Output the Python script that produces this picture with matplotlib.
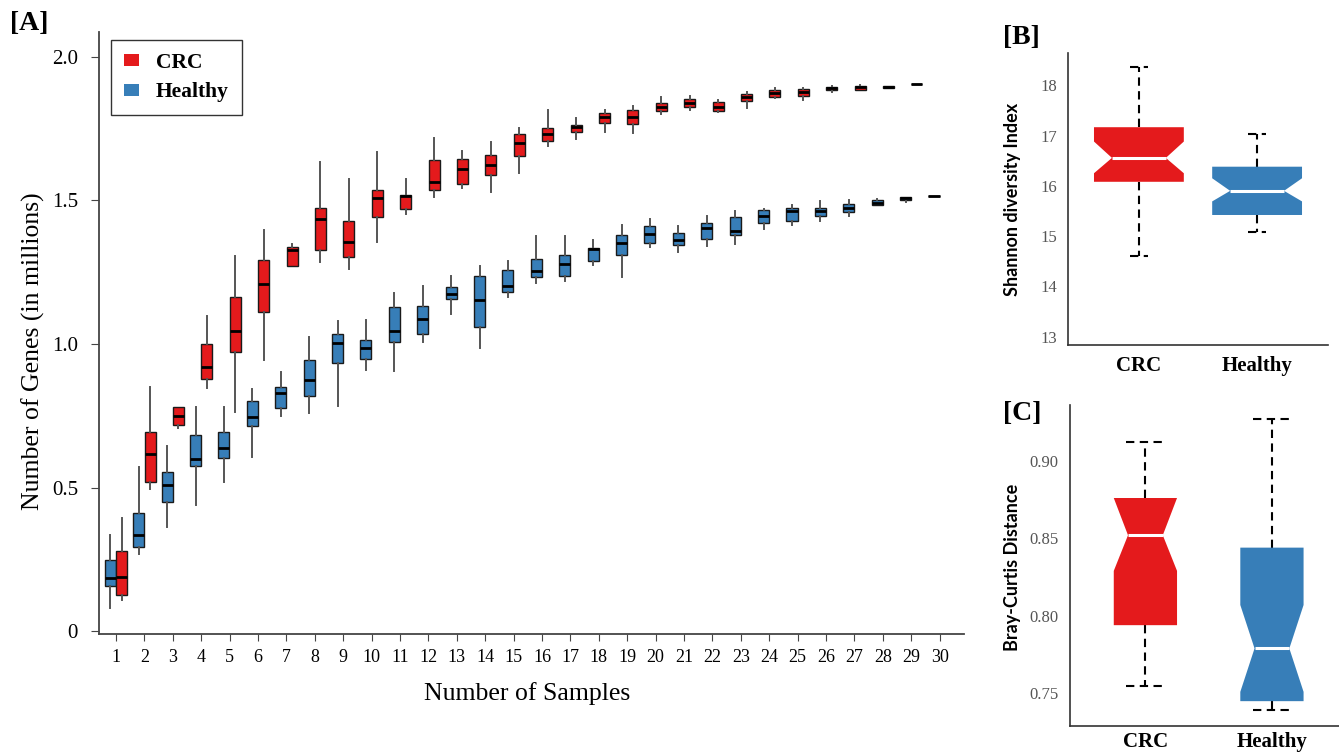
import numpy as np
import matplotlib
matplotlib.use("Agg")
from matplotlib import pyplot as plt
from matplotlib.patches import Patch

plt.rcParams['font.family'] = ['Liberation Serif', 'DejaVu Serif']

RED = '#e41a1c'
BLUE = '#377eb8'

## panel A: gene rarefaction, five-number summaries per sample count
samples = list(range(1, 31))

crc_lo = [0.107, 0.494, 0.706, 0.847, 0.762, 0.944, 1.272, 1.285, 1.263, 1.355,
          1.452, 1.511, 1.544, 1.529, 1.595, 1.690, 1.714, 1.738, 1.734, 1.803,
          1.815, 1.808, 1.823, 1.856, 1.849, 1.879, 1.886, 1.892, 1.907]
crc_q1 = [0.126, 0.520, 0.717, 0.879, 0.973, 1.110, 1.272, 1.328, 1.303, 1.441,
          1.472, 1.538, 1.558, 1.589, 1.655, 1.707, 1.738, 1.771, 1.768, 1.811,
          1.825, 1.811, 1.845, 1.859, 1.864, 1.886, 1.886, 1.892, 1.907]
crc_med = [0.187, 0.616, 0.748, 0.920, 1.047, 1.209, 1.327, 1.437, 1.357, 1.508,
           1.516, 1.566, 1.610, 1.625, 1.700, 1.730, 1.756, 1.790, 1.790, 1.826,
           1.841, 1.827, 1.860, 1.873, 1.878, 1.892, 1.895, 1.896, 1.907]
crc_q3 = [0.278, 0.694, 0.779, 1.000, 1.165, 1.291, 1.337, 1.474, 1.427, 1.538,
          1.519, 1.641, 1.644, 1.660, 1.732, 1.752, 1.763, 1.804, 1.815, 1.838,
          1.852, 1.842, 1.871, 1.886, 1.888, 1.895, 1.900, 1.899, 1.907]
crc_hi = [0.395, 0.851, 0.779, 1.099, 1.308, 1.398, 1.349, 1.635, 1.574, 1.668,
          1.574, 1.716, 1.674, 1.703, 1.752, 1.815, 1.788, 1.814, 1.830, 1.859,
          1.864, 1.851, 1.878, 1.893, 1.893, 1.900, 1.903, 1.900, 1.907]

hea_lo = [0.079, 0.270, 0.363, 0.438, 0.520, 0.607, 0.749, 0.760, 0.785, 0.909,
          0.907, 1.007, 1.103, 0.986, 1.162, 1.214, 1.221, 1.274, 1.234, 1.337,
          1.322, 1.340, 1.347, 1.400, 1.414, 1.427, 1.445, 1.484, 1.495, 1.516]
hea_q1 = [0.157, 0.292, 0.448, 0.576, 0.603, 0.715, 0.778, 0.820, 0.933, 0.948,
          1.008, 1.034, 1.158, 1.059, 1.182, 1.233, 1.236, 1.288, 1.310, 1.352,
          1.344, 1.367, 1.379, 1.422, 1.427, 1.447, 1.460, 1.486, 1.503, 1.516]
hea_med = [0.184, 0.335, 0.509, 0.598, 0.638, 0.747, 0.828, 0.874, 1.003, 0.987,
           1.044, 1.086, 1.175, 1.155, 1.203, 1.255, 1.278, 1.330, 1.353, 1.384,
           1.362, 1.404, 1.392, 1.447, 1.463, 1.462, 1.474, 1.492, 1.508, 1.516]
hea_q3 = [0.249, 0.412, 0.555, 0.684, 0.692, 0.801, 0.850, 0.943, 1.036, 1.014,
          1.130, 1.134, 1.197, 1.237, 1.258, 1.296, 1.310, 1.336, 1.378, 1.410,
          1.386, 1.423, 1.442, 1.466, 1.474, 1.474, 1.489, 1.500, 1.512, 1.516]
hea_hi = [0.336, 0.572, 0.645, 0.781, 0.779, 0.843, 0.903, 1.023, 1.081, 1.084,
          1.179, 1.203, 1.237, 1.273, 1.289, 1.377, 1.377, 1.363, 1.414, 1.434,
          1.411, 1.447, 1.464, 1.470, 1.484, 1.499, 1.503, 1.504, 1.512, 1.516]

## panel B: Shannon diversity (notched boxes)
groups = ['CRC', 'Healthy']
sh_lo = [14.61, 15.09]
sh_q1 = [16.08, 15.42]
sh_nlo = [16.25, 15.69]
sh_med = [16.555, 15.90]
sh_nhi = [16.88, 16.15]
sh_q3 = [17.165, 16.38]
sh_hi = [18.37, 17.03]

## panel C: Bray-Curtis distance
bc_lo = [0.755, 0.739]
bc_q1 = [0.794, 0.745]
bc_nlo = [0.829, 0.751]
bc_med = [0.852, 0.779]
bc_nhi = [0.876, 0.807]
bc_q3 = [0.876, 0.844]
bc_hi = [0.912, 0.927]


def five_num(lo, q1, med, q3, hi):
    return [dict(whislo=a, q1=b, med=c, q3=d, whishi=e, fliers=[])
            for a, b, c, d, e in zip(lo, q1, med, q3, hi)]


def notched(ax, x, lo, q1, nlo, med, nhi, q3, hi, width, color, capw, nw=0.6):
    hw = width / 2.0
    nhw = hw * nw
    xs = [x - hw, x + hw, x + hw, x + nhw, x + hw, x + hw, x - hw, x - hw, x - nhw, x - hw]
    ys = [q1, q1, nlo, med, nhi, q3, q3, nhi, med, nlo]
    ax.fill(xs, ys, color=color, lw=0, zorder=2)
    ax.plot([x - nhw, x + nhw], [med, med], color='white', lw=2.2, zorder=3,
            solid_capstyle='butt')
    for a, b in [(q3, hi), (q1, lo)]:
        ax.plot([x, x], [a, b], color='black', lw=1.5, dashes=(4, 2.6), zorder=1)
    for v in [lo, hi]:
        ax.plot([x - capw, x + capw], [v, v], color='black', lw=1.5, dashes=(4, 2.6), zorder=1)


def style_small(ax, xpad):
    for s in ['top', 'right']:
        ax.spines[s].set_visible(False)
    for s in ['left', 'bottom']:
        ax.spines[s].set_color('#333333')
        ax.spines[s].set_linewidth(1.2)
    ax.tick_params(axis='y', length=0, pad=8, labelsize=12, labelcolor='#555555')
    ax.tick_params(axis='x', length=0, pad=xpad)
    ax.set_xticks([1, 2])
    ax.set_xticklabels(groups, fontsize=15, fontweight='bold')


fig = plt.figure(figsize=(13.39, 7.53), dpi=100)

# ---- [A]
axA = fig.add_axes([0.0739, 0.158, 0.6461, 0.7995])
pos = np.array(samples, dtype=float)
axA.bxp(five_num(hea_lo, hea_q1, hea_med, hea_q3, hea_hi), positions=pos - 0.2,
        widths=0.39, patch_artist=True, showfliers=False, showcaps=False,
        boxprops=dict(facecolor=BLUE, edgecolor='#1a1a1a', linewidth=1.0),
        medianprops=dict(color='black', linewidth=2.0),
        whiskerprops=dict(color='#555555', linewidth=1.4), manage_ticks=False)
axA.bxp(five_num(crc_lo, crc_q1, crc_med, crc_q3, crc_hi), positions=pos[:len(crc_med)] + 0.2,
        widths=0.39, patch_artist=True, showfliers=False, showcaps=False,
        boxprops=dict(facecolor=RED, edgecolor='#1a1a1a', linewidth=1.0),
        medianprops=dict(color='black', linewidth=2.0),
        whiskerprops=dict(color='#555555', linewidth=1.4), manage_ticks=False)
axA.set_xlim(0.4, 30.86)
axA.set_ylim(-0.0105, 2.087)
axA.set_xticks(samples)
axA.set_yticks([0, 0.5, 1.0, 1.5, 2.0])
axA.set_yticklabels(['0', '0.5', '1.0', '1.5', '2.0'])
for s in ['top', 'right']:
    axA.spines[s].set_visible(False)
for s in ['left', 'bottom']:
    axA.spines[s].set_color('#444444')
    axA.spines[s].set_linewidth(1.3)
axA.tick_params(axis='y', direction='out', length=6, color='#444444', labelsize=15, pad=9)
axA.tick_params(axis='x', direction='out', length=5, color='#444444', labelsize=13, pad=6)
axA.set_ylabel('Number of Genes (in millions)', fontsize=18.5)
axA.yaxis.set_label_coords(-0.0624, 0.47)
axA.set_xlabel('Number of Samples', fontsize=18.5)
axA.xaxis.set_label_coords(0.495, -0.08)
leg = axA.legend(handles=[Patch(facecolor=RED, edgecolor='none', label='CRC'),
                          Patch(facecolor=BLUE, edgecolor='none', label='Healthy')],
                 loc='upper left', bbox_to_anchor=(0.0014, 1.005), fancybox=False,
                 edgecolor='black', handlelength=0.7, handleheight=0.5,
                 handletextpad=0.8, borderpad=0.6, labelspacing=0.45,
                 prop=dict(family='Liberation Serif', weight='bold', size=15.5))
leg.get_frame().set_linewidth(1.0)

# ---- [B]
axB = fig.add_axes([0.7976, 0.5418, 0.1942, 0.3878])
for i, c in enumerate([RED, BLUE]):
    notched(axB, i + 1, sh_lo[i], sh_q1[i], sh_nlo[i], sh_med[i], sh_nhi[i], sh_q3[i],
            sh_hi[i], 0.76, c, capw=0.075)
axB.set_xlim(0.4, 2.6)
axB.set_ylim(12.835, 18.64)
axB.set_yticks([13, 14, 15, 16, 17, 18])
style_small(axB, 8)
axB.set_ylabel('Shannon diversity Index', family=['Lato', 'DejaVu Sans'],
               fontweight='bold', fontsize=13)
axB.yaxis.set_label_coords(-0.18, 0.5)

# ---- [C]
axC = fig.add_axes([0.799, 0.0359, 0.201, 0.4263])
for i, c in enumerate([RED, BLUE]):
    notched(axC, i + 1, bc_lo[i], bc_q1[i], bc_nlo[i], bc_med[i], bc_nhi[i], bc_q3[i],
            bc_hi[i], 0.5, c, capw=0.15, nw=0.55)
axC.set_xlim(0.403, 2.53)
axC.set_ylim(0.729, 0.936)
axC.set_yticks([0.75, 0.80, 0.85, 0.90])
axC.set_yticklabels(['0.75', '0.80', '0.85', '0.90'])
style_small(axC, 4.5)
axC.set_ylabel('Bray-Curtis Distance', family=['Lato', 'DejaVu Sans'],
               fontweight='bold', fontsize=13)
axC.yaxis.set_label_coords(-0.18, 0.495)

# panel letters
fig.text(10 / 1339, 1 - 11 / 753, '[A]', fontsize=20, fontweight='bold', va='top')
fig.text(1003 / 1339, 1 - 25 / 753, '[B]', fontsize=20, fontweight='bold', va='top')
fig.text(1003 / 1339, 1 - 401 / 753, '[C]', fontsize=20, fontweight='bold', va='top')

fig.savefig('out.png', dpi=100)
